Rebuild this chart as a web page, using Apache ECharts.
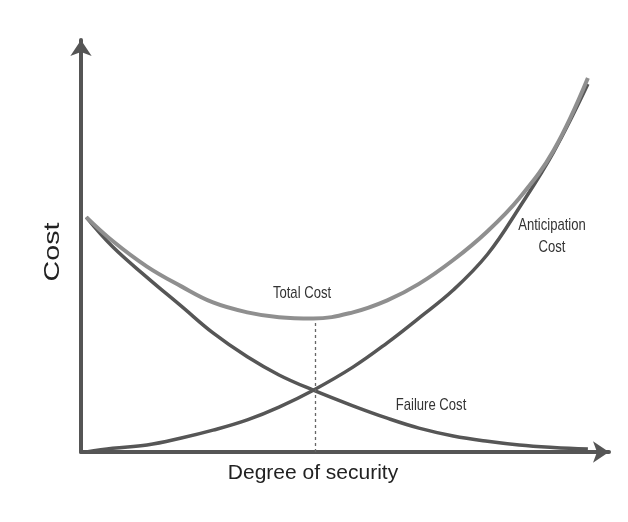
<!DOCTYPE html>
<html>
<head>
<meta charset="utf-8">
<script src="https://cdn.jsdelivr.net/npm/echarts@6/dist/echarts.min.js"></script>
<style>
html,body{margin:0;padding:0;background:#fff;}
#chart{width:628px;height:522px;}
</style>
</head>
<body>
<div id="chart"></div>
<script>
// Degree of security (x) sampled positions
var security = [1, 6, 12.5, 19, 25, 31.5, 37.5, 44, 51.5, 58, 64, 70.5, 77, 83, 89.5, 96];
// Cost values
var failureCost      = [57.0, 49.8, 42.4, 35.4, 28.9, 23.1, 18.7, 15.0, 11.2, 8.2, 5.8, 3.9, 2.6, 1.7, 1.1, 0.7];
var anticipationCost = [0.0, 0.9, 1.7, 3.4, 5.3, 7.8, 10.9, 15.0, 20.6, 26.5, 32.5, 39.3, 48.0, 59.3, 72.8, 89.3];
var totalCost        = [57.0, 51.2, 45.0, 40.2, 36.3, 33.9, 32.7, 32.4, 33.9, 36.8, 40.8, 46.6, 53.6, 61.6, 73.2, 90.8];
// Optimum (dashed marker)
var optimumSecurity = 44.3;
var optimumCost = 32.0;
// Axis extents (arrow tips)
var xMax = 100;
var yMax = 100;
var xAxisName = 'Degree of security';
var yAxisName = 'Cost';
var labelTotal = 'Total Cost';
var labelAnticipation = 'Anticipation\nCost';
var labelFailure = 'Failure Cost';

function pairs(xs, ys) { return xs.map(function (x, i) { return [x, ys[i]]; }); }

var sans = '"Liberation Sans", Arial, sans-serif';
var chart = echarts.init(document.getElementById('chart'), null, {renderer: 'canvas'});
var axisLine = {
  show: true,
  symbol: ['none', 'arrow'],
  symbolSize: [16, 16],
  lineStyle: {color: '#555', width: 4, cap: 'round'}
};
var narrowScale = 0.77;
chart.setOption({
  animation: false,
  backgroundColor: '#fff',
  grid: {left: 81, right: 19, top: 40, bottom: 70},
  xAxis: {
    type: 'value', min: 0, max: xMax,
    axisLine: axisLine,
    axisTick: {show: false}, axisLabel: {show: false}, splitLine: {show: false},
    name: xAxisName, nameLocation: 'middle', nameGap: 11,
    nameTextStyle: {fontFamily: sans, fontSize: 21, color: '#222', padding: [0, 64, 0, 0]}
  },
  yAxis: {
    type: 'value', min: 0, max: yMax,
    axisLine: axisLine,
    axisTick: {show: false}, axisLabel: {show: false}, splitLine: {show: false}
  },
  series: [
    {
      name: 'Failure Cost', type: 'line', smooth: 0.4, showSymbol: false,
      data: pairs(security, failureCost),
      lineStyle: {color: '#565656', width: 3.5}, z: 3
    },
    {
      name: 'Anticipation Cost', type: 'line', smooth: 0.4, showSymbol: false,
      data: pairs(security, anticipationCost),
      lineStyle: {color: '#565656', width: 3.5}, z: 3
    },
    {
      name: 'Total Cost', type: 'line', smooth: 0.4, showSymbol: false,
      data: pairs(security, totalCost),
      lineStyle: {color: '#8f8f8f', width: 4}, z: 4,
      markLine: {
        silent: true, symbol: 'none', animation: false,
        label: {show: false},
        lineStyle: {color: '#666', width: 1.3, type: [3, 3]},
        data: [[{coord: [optimumSecurity, 0]}, {coord: [optimumSecurity, optimumCost]}]]
      }
    }
  ],
  graphic: [
    {type: 'text', x: 53, y: 252, rotation: Math.PI / 2, scaleX: 1.3,
     style: {text: yAxisName, font: '22px ' + sans, fill: '#222', align: 'center', verticalAlign: 'middle'}},
    {type: 'text', x: 302, y: 293, scaleX: narrowScale,
     style: {text: labelTotal, font: '17px ' + sans, fill: '#333', align: 'center', verticalAlign: 'middle'}},
    {type: 'text', x: 552, y: 236, scaleX: narrowScale,
     style: {text: labelAnticipation, font: '17px ' + sans, fill: '#333', align: 'center', verticalAlign: 'middle', lineHeight: 22}},
    {type: 'text', x: 431, y: 405, scaleX: narrowScale,
     style: {text: labelFailure, font: '17px ' + sans, fill: '#333', align: 'center', verticalAlign: 'middle'}}
  ]
});
</script>
</body>
</html>
